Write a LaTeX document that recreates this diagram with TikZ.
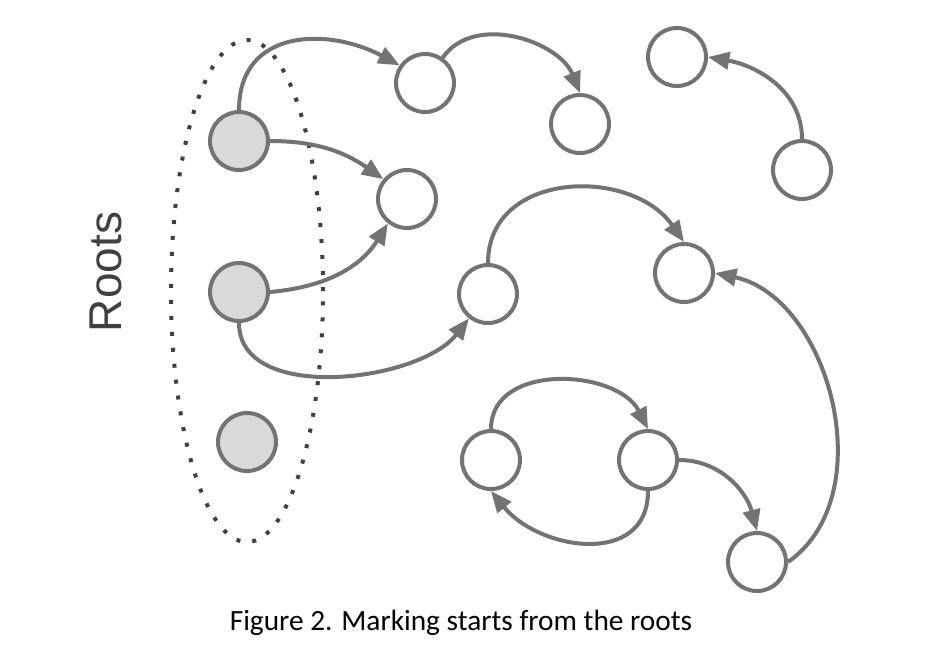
\documentclass[tikz,border=0pt]{standalone}
\usepackage{fontspec}
\setmainfont{Carlito}
\newfontfamily\labelfont{Liberation Sans}
\usetikzlibrary{arrows.meta}

\definecolor{linegray}{HTML}{737373}
\definecolor{rootgray}{HTML}{D9D9D9}
\definecolor{dotgray}{HTML}{404040}

\tikzset{
	obj/.style={circle, draw=linegray, line width=3pt, fill=white, minimum size=43.5pt, inner sep=0pt},
	rootobj/.style={obj, fill=rootgray},
	ref/.style={draw=linegray, line width=3pt, -{Triangle[length=16pt, width=13pt]}},
}

\begin{document}
\begin{tikzpicture}[x=0.75pt, y=-0.75pt]
\useasboundingbox (0,0) rectangle (930,662);

%% Roots
\begin{scope}
	\draw[dotgray, line width=3pt, dash pattern=on 3pt off 9pt] (247,291) ellipse [x radius=57pt, y radius=188.25pt];
	\node[rootobj] (r1) at (239,141) {};
	\node[rootobj] (r2) at (239,292) {};
	\node[rootobj] (r3) at (247,442) {};
	\node[rotate=90, anchor=base, text=dotgray, font=\labelfont\fontsize{34.5pt}{40pt}\selectfont] (rootslabel) at (121,272) {Roots};
\end{scope}

%% Objekte
\begin{scope}
	\node[obj] (a) at (425,83) {};
	\node[obj] (b) at (580,124) {};
	\node[obj] (c) at (407,199) {};
	\node[obj] (d) at (677,57) {};
	\node[obj] (e) at (802,170) {};
	\node[obj] (f) at (488,294) {};
	\node[obj] (g) at (684,273) {};
	\node[obj] (h) at (491,460) {};
	\node[obj] (i) at (648,460) {};
	\node[obj] (j) at (757,562) {};
\end{scope}

%% Referenzen
\draw[ref] (r1.north) to[out=90, in=152, looseness=1.25] (a.145);
\draw[ref] (a) to[out=55, in=112] (b.north);
\draw[ref] (r1.east) to[out=0, in=145] (c.140);
\draw[ref] (r2.east) to[out=5, in=-122] (c.-128);
\draw[ref] (r2.south) to[out=-90, in=-128, looseness=0.9] (f);
\draw[ref] (e.north) to[out=90, in=-10] (d.east);
\draw[ref] (f.north) to[out=90, in=125, looseness=1.2] (g.north);
\draw[ref] (j.east) to[out=35, in=-12] (g.east);
\draw[ref] (h.north) to[out=90, in=117, looseness=1.1] (i.north);
\draw[ref] (i.south) to[out=-90, in=-51, looseness=1.25] (h.south);
\draw[ref] (i.east) to[out=0, in=105] (j.north);

%% Bildunterschrift
\node[anchor=base, font=\fontsize{22pt}{26pt}\selectfont] (caption) at (461,630) {Figure 2. Marking starts from the roots};

\end{tikzpicture}
\end{document}
